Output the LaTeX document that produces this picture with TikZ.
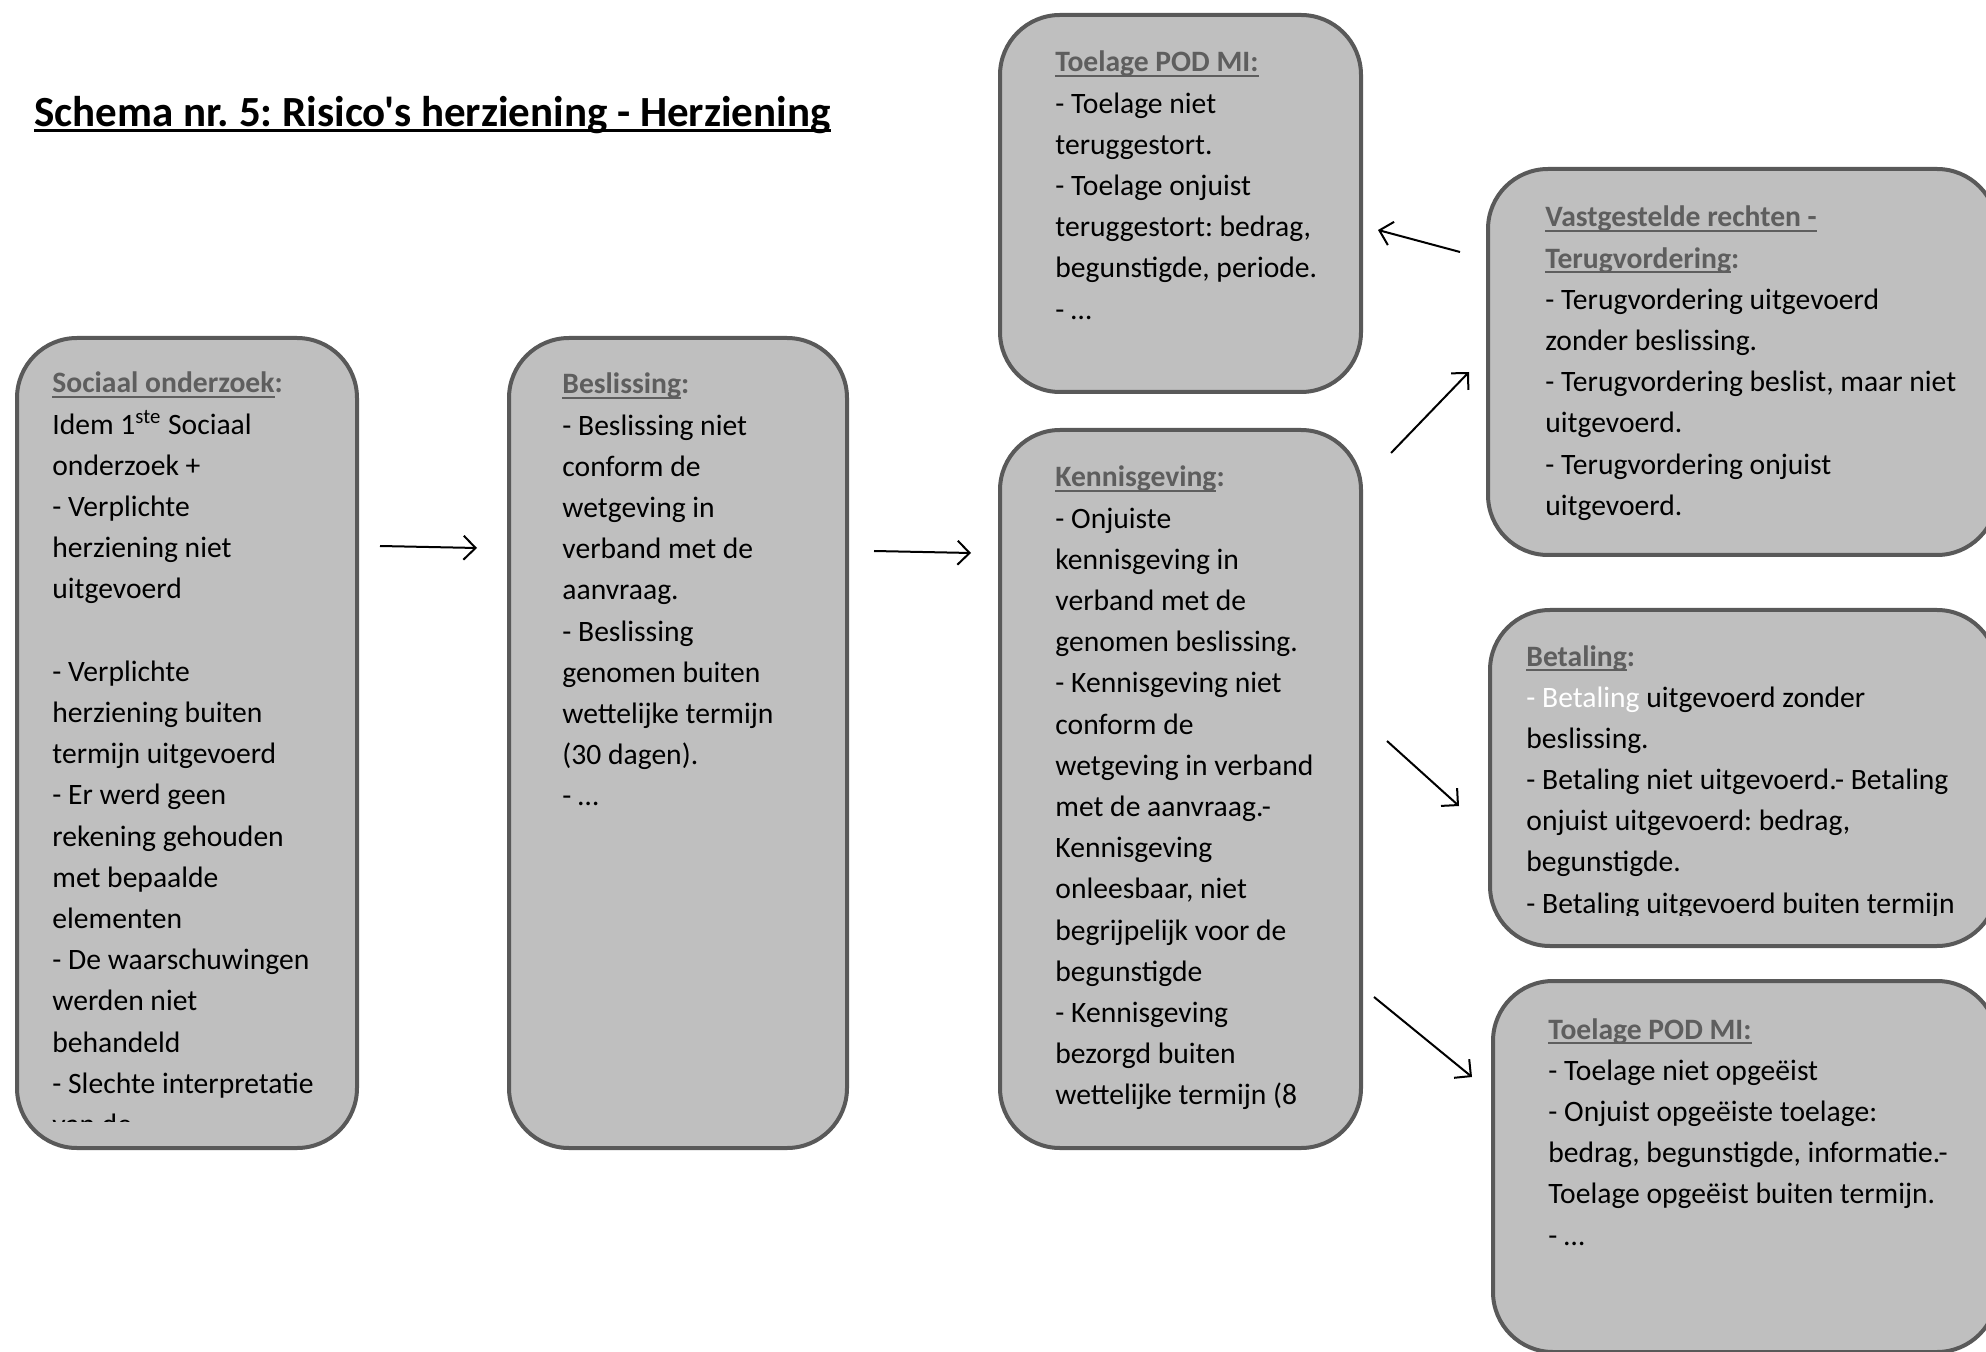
\documentclass[tikz,border=0pt]{standalone}
\usepackage{fontspec}
\setmainfont{Carlito}
\newfontfamily\titlefont{Carlito}
\usetikzlibrary{arrows.meta}
\frenchspacing
\definecolor{boxfill}{HTML}{BFBFBF}
\definecolor{boxline}{HTML}{595959}
\definecolor{hdcol}{HTML}{5E5E5E}
\newcommand\myul[2][0.9pt]{\leavevmode\setbox0\hbox{#2}\rlap{\rule[-2.4pt]{\wd0}{#1}}\box0}
\newcommand\hdr[2]{\leavevmode{\color{hdcol}\bfseries\myul{#1}#2}}
\newcommand\blk[1]{\parbox[t]{320pt}{\raggedright\frenchspacing\leavevmode #1}}
\tikzset{
  box/.style={draw=boxline, line width=2pt, fill=boxfill, rounded corners=30pt, inner sep=0pt, anchor=north west},
  txt/.style={anchor=base west, inner sep=0pt, font=\fontsize{14.8}{20.6}\selectfont},
  conn/.style={line width=1pt, -{Straight Barb[length=6pt,width=12pt]}}
}
\begin{document}
\begin{tikzpicture}[x=0.5pt,y=-0.5pt]
\useasboundingbox (0,0) rectangle (1986,1352);
\clip (0,0) rectangle (1986,1352);
\fill[white] (0,0) rectangle (1986,1352);

\node[anchor=base west, inner sep=0pt, font=\titlefont\fontsize{21.5}{25}\selectfont\bfseries] (title) at (34,127)
  {\frenchspacing\myul[1.5pt]{Schema nr.\ 5: Risico's herziening - Herziening}};

% boxes
\node[box, minimum width=170pt, minimum height=405pt] (b1) at (15,336) {};
\node[box, minimum width=169pt, minimum height=405pt] (b2) at (507,336) {};
\node[box, minimum width=180.5pt, minimum height=188.5pt] (b3) at (998,13) {};
\node[box, minimum width=180.5pt, minimum height=359pt] (b4) at (998,428) {};
\node[box, minimum width=254.5pt, minimum height=193pt] (b5) at (1486,167) {};
\node[box, minimum width=253.5pt, minimum height=168pt] (b6) at (1488,608) {};
\node[box, minimum width=252pt, minimum height=185.5pt] (b7) at (1491,979) {};

% texts
\begin{scope}
\clip (20,340) rectangle (350,1121);
\node[txt] (t1) at (52,393) {\blk{\hdr{Sociaal onderzoek}{:}\\
Idem 1\textsuperscript{ste} Sociaal\\ onderzoek +\\ - Verplichte\\ herziening niet\\ uitgevoerd\\ \mbox{}\\
- Verplichte\\ herziening buiten\\ termijn uitgevoerd\\ - Er werd geen\\ rekening gehouden\\ met bepaalde\\ elementen\\
- De waarschuwingen\\ werden niet\\ behandeld\\ - Slechte interpretatie\\ van de}};
\end{scope}

\node[txt] (t2) at (562,394) {\blk{\hdr{Beslissing}{:}\\
- Beslissing niet\\ conform de\\ wetgeving in\\ verband met de\\ aanvraag.\\ - Beslissing\\ genomen buiten\\ wettelijke termijn\\ (30 dagen).\\ - …}};

\node[txt] (t3) at (1055,72) {\blk{\hdr{Toelage POD MI:}{}\\
- Toelage niet\\ teruggestort.\\ - Toelage onjuist\\ teruggestort: bedrag,\\ begunstigde, periode.\\ - …}};

\node[txt] (t4) at (1055,487) {\blk{\hdr{Kennisgeving}{:}\\
- Onjuiste\\ kennisgeving in\\ verband met de\\ genomen beslissing.\\ - Kennisgeving niet\\ conform de\\ wetgeving in verband\\ met de aanvraag.-\\ Kennisgeving\\ onleesbaar, niet\\ begrijpelijk voor de\\ begunstigde\\ - Kennisgeving\\ bezorgd buiten\\ wettelijke termijn (8}};

\node[txt] (t5) at (1545,227) {\blk{\hdr{Vastgestelde rechten -}{}\\
\hdr{Terugvordering}{:}\\
- Terugvordering uitgevoerd\\ zonder beslissing.\\ - Terugvordering beslist, maar niet\\ uitgevoerd.\\ - Terugvordering onjuist\\ uitgevoerd.}};

\begin{scope}
\clip (1495,612) rectangle (1986,915);
\node[txt] (t6) at (1526,666) {\blk{\hdr{Betaling}{:}\\
{\color{white}- Betaling} uitgevoerd zonder\\ beslissing.\\ - Betaling niet uitgevoerd.- Betaling\\ onjuist uitgevoerd: bedrag,\\ begunstigde.\\ - Betaling uitgevoerd buiten termijn}};
\end{scope}

\node[txt] (t7) at (1548,1039) {\blk{\hdr{Toelage POD MI:}{}\\
- Toelage niet opgeëist\\ - Onjuist opgeëiste toelage:\\ bedrag, begunstigde, informatie.-\\ Toelage opgeëist buiten termijn.\\ - …}};

% connectors
\coordinate (a1s) at (380,546); \coordinate (a1e) at (477,548);
\coordinate (a2s) at (874,551); \coordinate (a2e) at (971,553);
\coordinate (a3s) at (1460,252); \coordinate (a3e) at (1378,230);
\coordinate (a4s) at (1391,453); \coordinate (a4e) at (1469,372);
\coordinate (a5s) at (1387,741); \coordinate (a5e) at (1459,806);
\coordinate (a6s) at (1374,997); \coordinate (a6e) at (1472,1077);
\draw[conn] (a1s) -- (a1e);
\draw[conn] (a2s) -- (a2e);
\draw[conn] (a3s) -- (a3e);
\draw[conn] (a4s) -- (a4e);
\draw[conn] (a5s) -- (a5e);
\draw[conn] (a6s) -- (a6e);
\end{tikzpicture}
\end{document}
